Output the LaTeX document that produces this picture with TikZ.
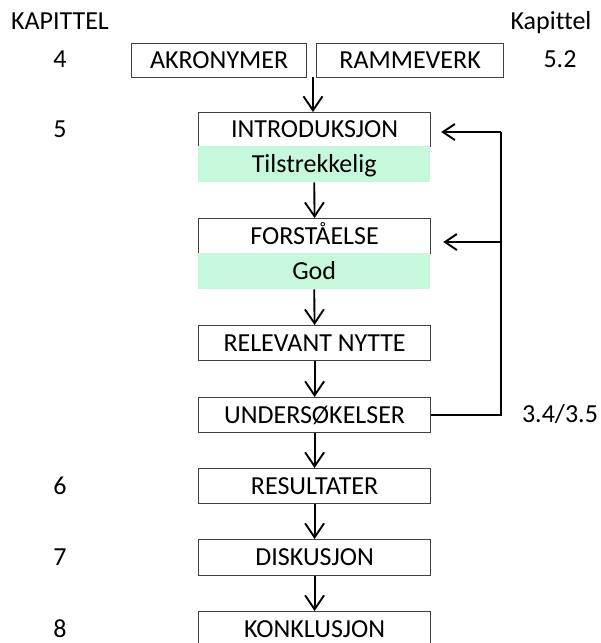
\documentclass[tikz,border=0pt]{standalone}
\usepackage{fontspec}
\setmainfont{Carlito}[Ligatures={NoCommon}]
\usetikzlibrary{arrows.meta}
\definecolor{mint}{HTML}{C6F9DC}
\definecolor{edge}{HTML}{404040}
\begin{document}
\begin{tikzpicture}[x=1pt,y=-1pt,
  every node/.style={font=\fontsize{26}{30}\selectfont, inner sep=0pt,
    text height=18pt, text depth=2pt},
  box/.style={draw=edge, line width=1.2pt, fill=white, minimum width=232pt,
    minimum height=35pt, anchor=north west},
  band/.style={fill=mint, minimum width=232pt, minimum height=36pt, anchor=north west},
  flow/.style={line width=1.9pt, -{Straight Barb[length=14pt,width=19pt,line width=1.9pt]}},
  back/.style={line width=1.9pt, -{Straight Barb[length=12pt,width=16pt,line width=1.9pt]}},
  rail/.style={line width=1.9pt},
]
\clip (0,0) rectangle (601,643);

% chapter labels
\node (kapL) at (60,21) {KAPITTEL};
\node (kapR) at (551,21) {Kapittel};
\node (c4) at (60,59) {4};
\node (c52) at (560,59) {5.2};
\node (c5) at (60,129) {5};
\node (c34) at (560,414) {3.4/3.5};
\node (c6) at (60,486) {6};
\node (c7) at (60,557) {7};
\node (c8) at (60,629) {8};

% top row
\node[box, minimum width=175pt, minimum height=34pt] (akr) at (131,43) {AKRONYMER};
\node[box, minimum width=187pt, minimum height=34pt] (ram) at (316,43) {RAMMEVERK};
\coordinate (join) at (313,77);

% main column
\node[box, minimum height=34pt] (intro) at (198,112) {INTRODUKSJON};
\node[band] (tils) at (198,146) {Tilstrekkelig};
\node[box] (forst) at (198,218) {FORSTÅELSE};
\node[band] (god) at (198,253) {God};
\node[box] (rel) at (198,325) {RELEVANT NYTTE};
\node[box] (und) at (198,397) {UNDERSØKELSER};
\node[box] (res) at (198,468) {RESULTATER};
\node[box, minimum height=36pt] (dis) at (198,539) {DISKUSJON};
\node[box] (kon) at (198,611) {KONKLUSJON};

% downward flow
\draw[flow] (join) -- (join |- intro.north);
\draw[flow] (tils.south) -- (forst.north);
\draw[flow] (god.south) -- (rel.north);
\draw[flow] (rel.south) -- (und.north);
\draw[flow] (und.south) -- (res.north);
\draw[flow] (res.south) -- (dis.north);
\draw[flow] (dis.south) -- (kon.north);

% feedback loop
\coordinate (railtop) at (501,132);
\coordinate (railmid) at (501,242);
\draw[rail] (und.east) -| (railtop);
\draw[back, shorten >=10pt] (railtop) -- (railtop -| intro.east);
\draw[back, shorten >=12pt] (railmid) -- (railmid -| forst.east);
\end{tikzpicture}
\end{document}
